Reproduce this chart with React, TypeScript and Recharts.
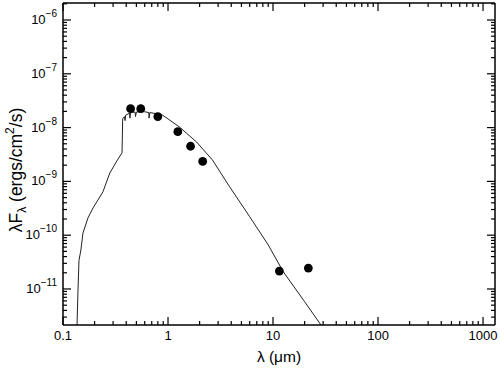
import React from 'react';
import { ComposedChart, Line, Scatter, XAxis, YAxis, ReferenceLine } from 'recharts';

// model spectrum (wavelength in micron, lambda*F_lambda in erg/cm2/s)
const modelWavelength = [
  0.134, 0.136, 0.139, 0.142, 0.148, 0.155, 0.173, 0.193, 0.24, 0.279, 0.33, 0.365,
  0.37, 0.385, 0.39, 0.395, 0.43, 0.434, 0.44, 0.486, 0.49, 0.5, 0.6, 0.656, 0.66, 0.67,
  0.8, 0.89, 1.29, 1.87, 2.65, 3.85, 6.0, 9.0, 12.5, 20, 28.8, 32,
];
const modelFlux = [
  5e-13, 2.1e-12, 1.0e-11, 3.4e-11, 5.3e-11, 1.1e-10, 2.1e-10, 3.2e-10, 6.4e-10, 1.43e-9, 2.5e-9, 3.4e-9,
  1.45e-8, 1.6e-8, 1.35e-8, 1.7e-8, 1.85e-8, 1.5e-8, 1.9e-8, 1.95e-8, 1.6e-8, 1.95e-8, 1.97e-8, 1.9e-8, 1.5e-8, 1.9e-8,
  1.8e-8, 1.7e-8, 1.02e-8, 5.4e-9, 2.5e-9, 8.0e-10, 2.2e-10, 6.6e-11, 2.1e-11, 5.8e-12, 2.1e-12, 1.5e-12,
];

// photometry
const photWavelength = [0.44, 0.55, 0.8, 1.24, 1.64, 2.14, 11.5, 21.7];
const photFlux = [2.25e-8, 2.25e-8, 1.6e-8, 8.4e-9, 4.5e-9, 2.35e-9, 2.15e-11, 2.45e-11];

const xMajor = [0.1, 1, 10, 100, 1000];
const xMajorLabels = ['0.1', '1', '10', '100', '1000'];
const xMinor = [
  0.2, 0.3, 0.4, 0.5, 0.6, 0.7, 0.8, 0.9,
  2, 3, 4, 5, 6, 7, 8, 9,
  20, 30, 40, 50, 60, 70, 80, 90,
  200, 300, 400, 500, 600, 700, 800, 900,
];
const yMajor = [1e-11, 1e-10, 1e-9, 1e-8, 1e-7, 1e-6];
const yMinor = [
  3e-12, 4e-12, 5e-12, 6e-12, 7e-12, 8e-12, 9e-12,
  2e-11, 3e-11, 4e-11, 5e-11, 6e-11, 7e-11, 8e-11, 9e-11,
  2e-10, 3e-10, 4e-10, 5e-10, 6e-10, 7e-10, 8e-10, 9e-10,
  2e-9, 3e-9, 4e-9, 5e-9, 6e-9, 7e-9, 8e-9, 9e-9,
  2e-8, 3e-8, 4e-8, 5e-8, 6e-8, 7e-8, 8e-8, 9e-8,
  2e-7, 3e-7, 4e-7, 5e-7, 6e-7, 7e-7, 8e-7, 9e-7,
  2e-6,
];

const modelData = modelWavelength.map((x, i) => ({ x, y: modelFlux[i] }));
const photData = photWavelength.map((x, i) => ({ x, y: photFlux[i] }));
const xTicks = [...xMajor, ...xMinor].sort((a, b) => a - b);
const yTicks = [...yMajor, ...yMinor].sort((a, b) => a - b);

const X_DOMAIN = [0.1, 1300];
const Y_DOMAIN = [2.14e-12, 2.07e-6];
const FONT = '"Liberation Sans", Arial, Helvetica, sans-serif';

// tick lengths expressed as ratios along the log axes (px / px-per-decade)
const PX_PER_DEC_X = 432 / Math.log10(X_DOMAIN[1] / X_DOMAIN[0]);
const PX_PER_DEC_Y = 322 / Math.log10(Y_DOMAIN[1] / Y_DOMAIN[0]);
const fx = (px: number) => Math.pow(10, px / PX_PER_DEC_X);
const fy = (px: number) => Math.pow(10, px / PX_PER_DEC_Y);

const isMajor = (v: number) => Math.abs(Math.log10(v) - Math.round(Math.log10(v))) < 1e-6;
const tickLen = (v: number) => (isMajor(v) ? 8 : 4);

const BottomTick = (props: any) => {
  const { x, y, payload } = props;
  const idx = xMajor.findIndex((m) => Math.abs(m - payload.value) < 1e-9);
  if (idx < 0) return <g />;
  return (
    <text x={x} y={y + 15} textAnchor="middle" fontSize={13} fontFamily={FONT} fill="#000">
      {xMajorLabels[idx]}
    </text>
  );
};

const LeftTick = (props: any) => {
  const { x, y, payload } = props;
  if (!isMajor(payload.value)) return <g />;
  const e = Math.round(Math.log10(payload.value));
  return (
    <text x={x - 6} y={y + 4} textAnchor="end" fontSize={13} fontFamily={FONT} fill="#000">
      10
      <tspan dy={-7} fontSize={10}>{'\u2212' + Math.abs(e)}</tspan>
    </text>
  );
};

const XLabel = (props: any) => {
  const { viewBox } = props;
  const cx = viewBox.x + viewBox.width / 2;
  return (
    <text x={cx} y={viewBox.y + 37} textAnchor="middle" fontSize={15.5} fontFamily={FONT} fill="#000">
      λ (μm)
    </text>
  );
};

const YLabel = (props: any) => {
  const { viewBox } = props;
  const cx = 22;
  const cy = viewBox.y + viewBox.height / 2 + 6;
  return (
    <text
      x={cx}
      y={cy}
      transform={`rotate(-90, ${cx}, ${cy})`}
      textAnchor="middle"
      fontSize={17.5}
      fontFamily={FONT}
      fill="#000"
    >
      λF
      <tspan dy={4} fontSize={12}>λ</tspan>
      <tspan dy={-4}> (ergs/cm</tspan>
      <tspan dy={-8} fontSize={12}>2</tspan>
      <tspan dy={8}>/s)</tspan>
    </text>
  );
};

const Dot = (props: any) => <circle cx={props.cx} cy={props.cy} r={4.4} fill="#000" />;

const tickStroke = { stroke: '#000', strokeWidth: 1.2 };

export default function App() {
  return (
    <div style={{ position: 'absolute', left: 0, top: 0, width: 500, height: 369, background: '#fff' }}>
      <ComposedChart width={500} height={369} margin={{ top: 3, right: 5, left: 0, bottom: 0 }}>
        <XAxis
          dataKey="x"
          type="number"
          scale="log"
          domain={X_DOMAIN}
          allowDataOverflow
          ticks={xTicks}
          interval={0}
          tickSize={0}
          tickMargin={0}
          tickLine={false}
          tick={<BottomTick />}
          height={44}
          stroke="#000"
          strokeWidth={1.5}
          label={<XLabel />}
        />
        <YAxis
          dataKey="y"
          type="number"
          scale="log"
          domain={Y_DOMAIN}
          allowDataOverflow
          ticks={yTicks}
          interval={0}
          tickSize={0}
          tickMargin={0}
          tickLine={false}
          tick={<LeftTick />}
          width={63}
          stroke="#000"
          strokeWidth={1.5}
          label={<YLabel />}
        />
        {/* frame: top and right edges */}
        <ReferenceLine y={Y_DOMAIN[1]} stroke="#000" strokeWidth={1.5} ifOverflow="visible" />
        <ReferenceLine x={X_DOMAIN[1]} stroke="#000" strokeWidth={1.5} ifOverflow="visible" />
        {/* inward tick marks on all four sides */}
        {xTicks.map((v) => (
          <ReferenceLine
            key={'xb' + v}
            segment={[{ x: v, y: Y_DOMAIN[0] }, { x: v, y: Y_DOMAIN[0] * fy(tickLen(v)) }]}
            ifOverflow="visible"
            {...tickStroke}
          />
        ))}
        {xTicks.map((v) => (
          <ReferenceLine
            key={'xt' + v}
            segment={[{ x: v, y: Y_DOMAIN[1] }, { x: v, y: Y_DOMAIN[1] / fy(tickLen(v)) }]}
            ifOverflow="visible"
            {...tickStroke}
          />
        ))}
        {yTicks.map((v) => (
          <ReferenceLine
            key={'yl' + v}
            segment={[{ x: X_DOMAIN[0], y: v }, { x: X_DOMAIN[0] * fx(tickLen(v)), y: v }]}
            ifOverflow="visible"
            {...tickStroke}
          />
        ))}
        {yTicks.map((v) => (
          <ReferenceLine
            key={'yr' + v}
            segment={[{ x: X_DOMAIN[1], y: v }, { x: X_DOMAIN[1] / fx(tickLen(v)), y: v }]}
            ifOverflow="visible"
            {...tickStroke}
          />
        ))}
        <Line
          data={modelData}
          dataKey="y"
          type="linear"
          stroke="#222"
          strokeWidth={1}
          dot={false}
          activeDot={false}
          isAnimationActive={false}
        />
        <Scatter data={photData} dataKey="y" fill="#000" shape={<Dot />} isAnimationActive={false} />
      </ComposedChart>
    </div>
  );
}
